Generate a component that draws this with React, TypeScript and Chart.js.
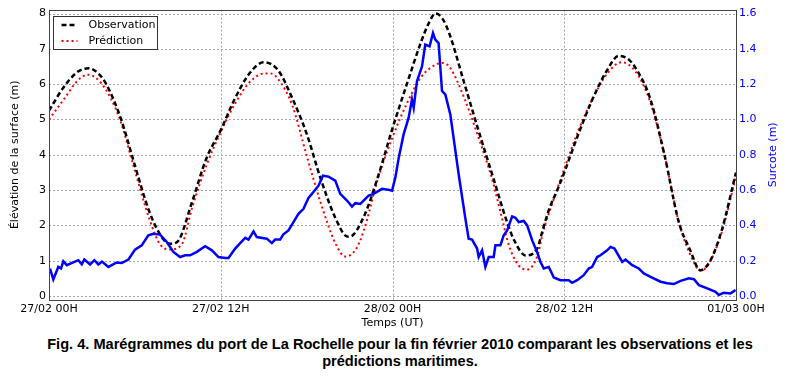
import React, { useEffect, useRef } from "react";
import { Chart, registerables } from "chart.js";

Chart.register(...registerables);

const xTickHours = [0, 12, 24, 36, 48];
const xTickLabels = ["27/02 00H", "27/02 12H", "28/02 00H", "28/02 12H", "01/03 00H"];
const leftTicks = [0, 1, 2, 3, 4, 5, 6, 7, 8];
const rightTicks = [0, 0.2, 0.4, 0.6, 0.8, 1.0, 1.2, 1.4, 1.6];

const obsHours = [0, 1, 2, 2.8, 3.5, 4, 5, 6, 7, 8, 8.5, 9, 10, 11, 12, 13, 14, 15, 16, 17, 18, 19, 20, 20.8, 21, 22, 23, 24, 25, 26, 26.5, 27, 27.5, 28, 29, 30, 31, 32, 32.5, 33.3, 34.1, 34.55, 35, 35.5, 36, 37, 38, 39, 39.8, 40.5, 41, 42, 43, 44, 44.8, 45.5, 46.2, 47, 48];
const obsValues = [5.25, 5.9, 6.35, 6.45, 6.28, 6.0, 5.05, 3.7, 2.4, 1.6, 1.48, 1.55, 2.67, 3.9, 4.7, 5.6, 6.3, 6.62, 6.4, 5.6, 4.6, 3.3, 2.22, 1.69, 1.68, 2.25, 3.4, 4.75, 6.0, 7.2, 7.7, 8.0, 7.85, 7.4, 6.05, 4.7, 3.4, 2.1, 1.58, 1.15, 1.34, 1.95, 2.52, 2.99, 3.5, 4.6, 5.6, 6.4, 6.8, 6.7, 6.45, 5.6, 4.0, 2.1, 1.3, 0.73, 1.0, 1.86, 3.5];

const predHours = [0, 1, 2, 2.7, 3.5, 4.3, 5, 6, 7, 7.8, 8.5, 9.3, 10, 11, 12, 13, 14, 15, 15.5, 16, 17, 18, 19, 20, 20.7, 21.4, 22, 23, 24, 25, 26, 27, 27.5, 28, 29, 30, 31, 31.65, 32.1, 32.8, 33.4, 34.1, 34.55, 35.15, 36, 37, 38, 39, 40, 41, 42, 43, 44, 45, 45.5, 46, 47, 48];
const predValues = [5.0, 5.55, 6.1, 6.27, 6.1, 5.61, 4.95, 3.55, 2.2, 1.44, 1.32, 1.48, 2.5, 3.7, 4.65, 5.45, 6.05, 6.3, 6.3, 6.15, 5.4, 3.98, 2.62, 1.5, 1.12, 1.3, 1.86, 3.35, 4.5, 5.45, 6.2, 6.55, 6.6, 6.48, 5.62, 4.5, 3.25, 2.2, 1.48, 0.87, 0.75, 1.11, 1.86, 2.61, 3.6, 4.7, 5.6, 6.3, 6.62, 6.35, 5.5, 4.0, 2.1, 1.0, 0.72, 0.85, 1.8, 3.4];

const surgeHours = [0.07, 0.3, 0.65, 0.84, 1.0, 1.24, 2.05, 2.29, 2.47, 2.87, 3.17, 3.45, 3.7, 4.15, 4.73, 5.08, 5.55, 6.01, 6.48, 6.94, 7.29, 7.76, 8.23, 8.69, 9.16, 9.51, 9.86, 10.33, 10.91, 11.38, 11.84, 12.31, 12.54, 13.01, 13.36, 13.71, 13.94, 14.29, 14.52, 15.22, 15.57, 15.8, 16.15, 16.38, 16.73, 17.08, 17.43, 17.78, 18.13, 18.37, 18.83, 19.14, 19.53, 20.0, 20.35, 20.82, 21.17, 21.4, 21.75, 22.33, 22.68, 23.27, 23.8, 23.97, 24.2, 24.43, 24.78, 25.13, 25.36, 25.48, 25.71, 26.06, 26.29, 26.59, 26.83, 26.99, 27.22, 27.46, 27.69, 28.04, 28.62, 29.09, 29.32, 29.56, 29.91, 30.02, 30.26, 30.49, 30.72, 31.07, 31.19, 31.54, 31.77, 32.01, 32.36, 32.59, 32.82, 33.17, 33.41, 33.76, 34.1, 34.34, 34.57, 34.92, 35.27, 35.73, 36.31, 36.55, 36.9, 37.36, 37.71, 37.95, 38.3, 38.53, 39.0, 39.23, 39.51, 40.05, 40.28, 40.75, 41.21, 41.56, 42.03, 42.73, 43.2, 43.66, 44.13, 44.71, 45.06, 45.41, 45.99, 46.57, 46.8, 47.15, 47.62, 47.97];
const surgeValues = [0.156, 0.094, 0.165, 0.156, 0.197, 0.175, 0.203, 0.18, 0.207, 0.179, 0.203, 0.179, 0.195, 0.165, 0.19, 0.187, 0.207, 0.263, 0.287, 0.344, 0.353, 0.348, 0.306, 0.25, 0.221, 0.231, 0.231, 0.25, 0.282, 0.259, 0.221, 0.216, 0.216, 0.269, 0.3, 0.33, 0.32, 0.366, 0.334, 0.325, 0.3, 0.32, 0.32, 0.35, 0.372, 0.419, 0.466, 0.494, 0.556, 0.579, 0.625, 0.682, 0.676, 0.654, 0.579, 0.541, 0.507, 0.526, 0.522, 0.569, 0.579, 0.607, 0.601, 0.597, 0.672, 0.78, 0.917, 1.01, 1.114, 1.066, 1.217, 1.301, 1.424, 1.414, 1.489, 1.452, 1.433, 1.161, 1.142, 1.029, 0.691, 0.44, 0.325, 0.32, 0.269, 0.221, 0.259, 0.165, 0.221, 0.221, 0.287, 0.287, 0.344, 0.372, 0.451, 0.443, 0.419, 0.425, 0.4, 0.315, 0.25, 0.193, 0.156, 0.165, 0.105, 0.09, 0.09, 0.075, 0.09, 0.118, 0.156, 0.165, 0.221, 0.231, 0.259, 0.278, 0.269, 0.193, 0.207, 0.175, 0.156, 0.128, 0.109, 0.081, 0.072, 0.068, 0.086, 0.1, 0.095, 0.062, 0.043, 0.024, 0.006, 0.019, 0.015, 0.034];

const FONT = "'DejaVu Sans', sans-serif";
const RIGHT_TITLE = "Surcote (m)";

const gridPlugin = {
  id: "dottedGrid",
  beforeDatasetsDraw(chart: any) {
    const { ctx, chartArea: a, scales } = chart;
    ctx.save();
    ctx.strokeStyle = "#a6a6a6";
    ctx.lineWidth = 1;
    ctx.setLineDash([2, 2]);
    xTickHours.forEach((v) => {
      const px = Math.round(scales.x.getPixelForValue(v)) + 0.5;
      ctx.beginPath();
      ctx.moveTo(px, a.top);
      ctx.lineTo(px, a.bottom);
      ctx.stroke();
    });
    leftTicks.forEach((v) => {
      const py = Math.round(scales.y.getPixelForValue(v)) + 0.5;
      ctx.beginPath();
      ctx.moveTo(a.left, py);
      ctx.lineTo(a.right, py);
      ctx.stroke();
    });
    ctx.restore();
  },
  afterDatasetsDraw(chart: any) {
    const { ctx, chartArea: a } = chart;
    ctx.save();
    ctx.strokeStyle = "#444";
    ctx.lineWidth = 1;
    ctx.strokeRect(Math.round(a.left) + 0.5, Math.round(a.top) + 0.5, Math.round(a.right - a.left), Math.round(a.bottom - a.top));
    ctx.restore();
  },
};

const legendPlugin = {
  id: "innerLegend",
  afterDraw(chart: any) {
    const { ctx, chartArea: a } = chart;
    const items = chart.data.datasets.filter((d: any) => d.inLegend);
    const x = Math.round(a.left) + 4.5;
    const y = Math.round(a.top) + 6.5;
    const w = 104;
    const h = 33;
    ctx.save();
    ctx.fillStyle = "#fff";
    ctx.fillRect(x, y, w, h);
    ctx.strokeStyle = "#333";
    ctx.lineWidth = 1;
    ctx.strokeRect(x, y, w, h);
    items.forEach((d: any, i: number) => {
      const ly = y + 8.5 + i * 16;
      ctx.beginPath();
      ctx.setLineDash(d.borderDash || []);
      ctx.strokeStyle = d.borderColor;
      ctx.lineWidth = d.borderWidth;
      ctx.moveTo(x + 8, ly);
      ctx.lineTo(x + 24, ly);
      ctx.stroke();
      ctx.setLineDash([]);
      ctx.fillStyle = "#000";
      ctx.font = `11px ${FONT}`;
      ctx.textBaseline = "middle";
      ctx.textAlign = "left";
      ctx.fillText(d.label, x + 35, ly);
    });
    ctx.save();
    ctx.translate(773, (a.top + a.bottom) / 2);
    ctx.rotate(-Math.PI / 2);
    ctx.fillStyle = "#0000ff";
    ctx.font = `11px ${FONT}`;
    ctx.textAlign = "center";
    ctx.textBaseline = "middle";
    ctx.fillText(RIGHT_TITLE, 0, 0);
    ctx.restore();
    ctx.restore();
  },
};

export default function App() {
  const ref = useRef<HTMLCanvasElement | null>(null);

  useEffect(() => {
    if (!ref.current) return;
    const toPts = (xs: number[], ys: number[]) => xs.map((x, i) => ({ x, y: ys[i] }));
    const noGrid = { display: false, drawOnChartArea: false, drawTicks: false };
    const chart = new Chart(ref.current, {
      type: "line",
      data: {
        datasets: [
          {
            label: "Surcote",
            data: toPts(surgeHours, surgeValues),
            yAxisID: "y1",
            borderColor: "#0000ff",
            borderWidth: 2.5,
            pointRadius: 0,
            tension: 0,
            order: 0,
          },
          {
            label: "Observation",
            inLegend: true,
            data: toPts(obsHours, obsValues),
            yAxisID: "y",
            borderColor: "#000000",
            borderWidth: 2.5,
            borderDash: [5, 3],
            pointRadius: 0,
            cubicInterpolationMode: "monotone",
            order: 1,
          },
          {
            label: "Prédiction",
            inLegend: true,
            data: toPts(predHours, predValues),
            yAxisID: "y",
            borderColor: "#ff0000",
            borderWidth: 2,
            borderDash: [2, 3],
            pointRadius: 0,
            cubicInterpolationMode: "monotone",
            order: 2,
          },
        ] as any,
      },
      options: {
        responsive: false,
        animation: false,
        layout: { padding: { top: 7, left: 0, right: 0, bottom: 0 } },
        plugins: { legend: { display: false }, tooltip: { enabled: false } },
        scales: {
          x: {
            type: "linear",
            min: 0,
            max: 48,
            afterBuildTicks: (s: any) => {
              s.ticks = xTickHours.map((v) => ({ value: v }));
            },
            afterFit: (s: any) => {
              s.height = 30;
            },
            ticks: {
              color: "#000",
              font: { family: FONT, size: 11 },
              padding: 3,
              maxRotation: 0,
              callback: (v: any) => xTickLabels[xTickHours.indexOf(Number(v))] ?? "",
            },
            grid: { ...noGrid },
            border: { display: false },
            title: { display: true, text: "Temps (UT)", color: "#000", font: { family: FONT, size: 11 }, padding: { top: 0, bottom: 0 } },
          },
          y: {
            type: "linear",
            position: "left",
            min: -0.112,
            max: 8.112,
            afterBuildTicks: (s: any) => {
              s.ticks = leftTicks.map((v) => ({ value: v }));
            },
            afterFit: (s: any) => {
              s.width = 49;
            },
            ticks: { color: "#000", font: { family: FONT, size: 11 }, padding: 3, callback: (v: any) => String(v) },
            grid: { ...noGrid },
            border: { display: false },
            title: { display: true, text: "Élévation de la surface (m)", color: "#000", font: { family: FONT, size: 11 }, padding: { top: 9, bottom: 0 } },
          },
          y1: {
            type: "linear",
            position: "right",
            min: -0.0224,
            max: 1.6224,
            afterBuildTicks: (s: any) => {
              s.ticks = rightTicks.map((v) => ({ value: v }));
            },
            afterFit: (s: any) => {
              s.width = 64;
            },
            ticks: { color: "#0000ff", font: { family: FONT, size: 11 }, padding: 3, callback: (v: any) => Number(v).toFixed(1) },
            grid: { ...noGrid },
            border: { display: false },
            title: { display: false },
          },
        },
      } as any,
      plugins: [gridPlugin, legendPlugin],
    });
    return () => chart.destroy();
  }, []);

  return (
    <div style={{ position: "absolute", left: 0, top: 0, width: 800, height: 377, background: "#fff" }}>
      <canvas ref={ref} width={800} height={330} style={{ display: "block" }} />
      <div
        style={{
          position: "absolute",
          left: 0,
          top: 336,
          width: 800,
          textAlign: "center",
          fontFamily: "'Liberation Sans', Arial, sans-serif",
          fontWeight: "bold",
          fontSize: 14.6,
          lineHeight: "17px",
          color: "#000",
        }}
      >
        Fig. 4. Marégrammes du port de La Rochelle pour la fin février 2010 comparant les observations et les
        <br />
        prédictions maritimes.
      </div>
    </div>
  );
}
